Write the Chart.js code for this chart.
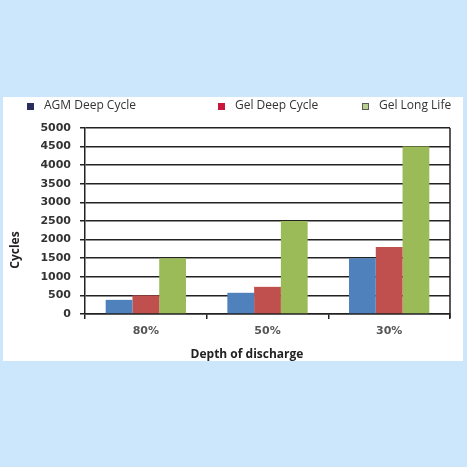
<!DOCTYPE html>
<html>
<head>
<meta charset="utf-8">
<script src="https://cdn.jsdelivr.net/npm/chart.js@4.4.1/dist/chart.umd.min.js"></script>
<style>
  html, body { margin: 0; padding: 0; background: #cce7fb; }
  #wrap { width: 467px; height: 467px; }
</style>
</head>
<body>
<div id="wrap"><canvas id="cyclesChart" width="467" height="467"></canvas></div>
<script>
// dados
const categorias = ['80%', '50%', '30%'];
const agmDeepCycle = [380, 570, 1500];
const gelDeepCycle = [500, 730, 1800];
const gelLongLife = [1500, 2500, 4500];
const yMax = 5000;
const yPasso = 500;

const tituloY = 'Cycles';
const tituloX = 'Depth of discharge';

// painel branco, legenda e títulos desenhados à mão
const extras = {
    id: 'extras',
    beforeDraw(chart) {
        const ctx = chart.ctx;
        ctx.save();
        ctx.fillStyle = '#cce7fb';
        ctx.fillRect(0, 0, chart.width, chart.height);
        ctx.fillStyle = '#ffffff';
        ctx.fillRect(3, 97, 460, 264);
        ctx.restore();
    },
    afterDraw(chart) {
        const ctx = chart.ctx;
        const area = chart.chartArea;
        ctx.save();

        // borda direita
        ctx.strokeStyle = '#222';
        ctx.lineWidth = 1.5;
        ctx.beginPath();
        ctx.moveTo(area.right, area.top);
        ctx.lineTo(area.right, area.bottom + 4);
        ctx.stroke();

        // legenda
        const marcadores = ['#2b2d5c', '#c8173a', '#b7d08c'];
        const posX = [27, 218, 362];
        ctx.font = '12px "Open Sans"';
        ctx.textBaseline = 'middle';
        chart.data.datasets.forEach((ds, i) => {
            ctx.fillStyle = marcadores[i];
            ctx.fillRect(posX[i], 103, 7, 7);
            if (i === 2) {
                ctx.strokeStyle = '#5a5a5a';
                ctx.lineWidth = 1;
                ctx.strokeRect(posX[i] + 0.5, 103.5, 6, 6);
            }
            ctx.fillStyle = '#333';
            ctx.fillText(ds.label, posX[i] + 17, 106);
        });

        // títulos dos eixos
        ctx.font = 'bold 12px "Open Sans"';
        ctx.fillStyle = '#222';
        ctx.textAlign = 'center';
        ctx.fillText(tituloX, 247, 355);

        ctx.translate(16, 250);
        ctx.rotate(-Math.PI / 2);
        ctx.fillText(tituloY, 0, 0);
        ctx.restore();
    }
};

const ctx = document.getElementById('cyclesChart').getContext('2d');
new Chart(ctx, {
    type: 'bar',
    data: {
        labels: categorias,
        datasets: [{
            label: 'AGM Deep Cycle',
            data: agmDeepCycle,
            backgroundColor: '#4f81bd'
        }, {
            label: 'Gel Deep Cycle',
            data: gelDeepCycle,
            backgroundColor: '#c0504d'
        }, {
            label: 'Gel Long Life',
            data: gelLongLife,
            backgroundColor: '#9bbb59'
        }]
    },
    options: {
        responsive: false,
        animation: false,
        devicePixelRatio: 1,
        layout: {
            padding: { top: 128, right: 17, left: 0, bottom: 0 }
        },
        datasets: {
            bar: {
                categoryPercentage: 0.66,
                barPercentage: 1
            }
        },
        scales: {
            x: {
                grid: {
                    drawOnChartArea: false,
                    color: '#222',
                    lineWidth: 1.5,
                    tickLength: 5
                },
                border: { color: '#222', width: 1.5 },
                ticks: {
                    color: '#555',
                    padding: 6,
                    font: { family: 'DejaVu Sans', weight: 'bold', size: 11 }
                },
                afterFit: (scale) => { scale.height = 153; }
            },
            y: {
                min: 0,
                max: yMax,
                grid: {
                    color: '#222',
                    lineWidth: 1.5,
                    tickLength: 5
                },
                border: { color: '#222', width: 1.5 },
                ticks: {
                    stepSize: yPasso,
                    color: '#333',
                    padding: 9,
                    font: { family: 'DejaVu Sans', weight: 'bold', size: 11 },
                    callback: (value) => String(value)
                },
                afterFit: (scale) => { scale.width = 85; }
            }
        },
        plugins: {
            legend: { display: false },
            tooltip: { enabled: false }
        }
    },
    plugins: [extras]
});
</script>
</body>
</html>
